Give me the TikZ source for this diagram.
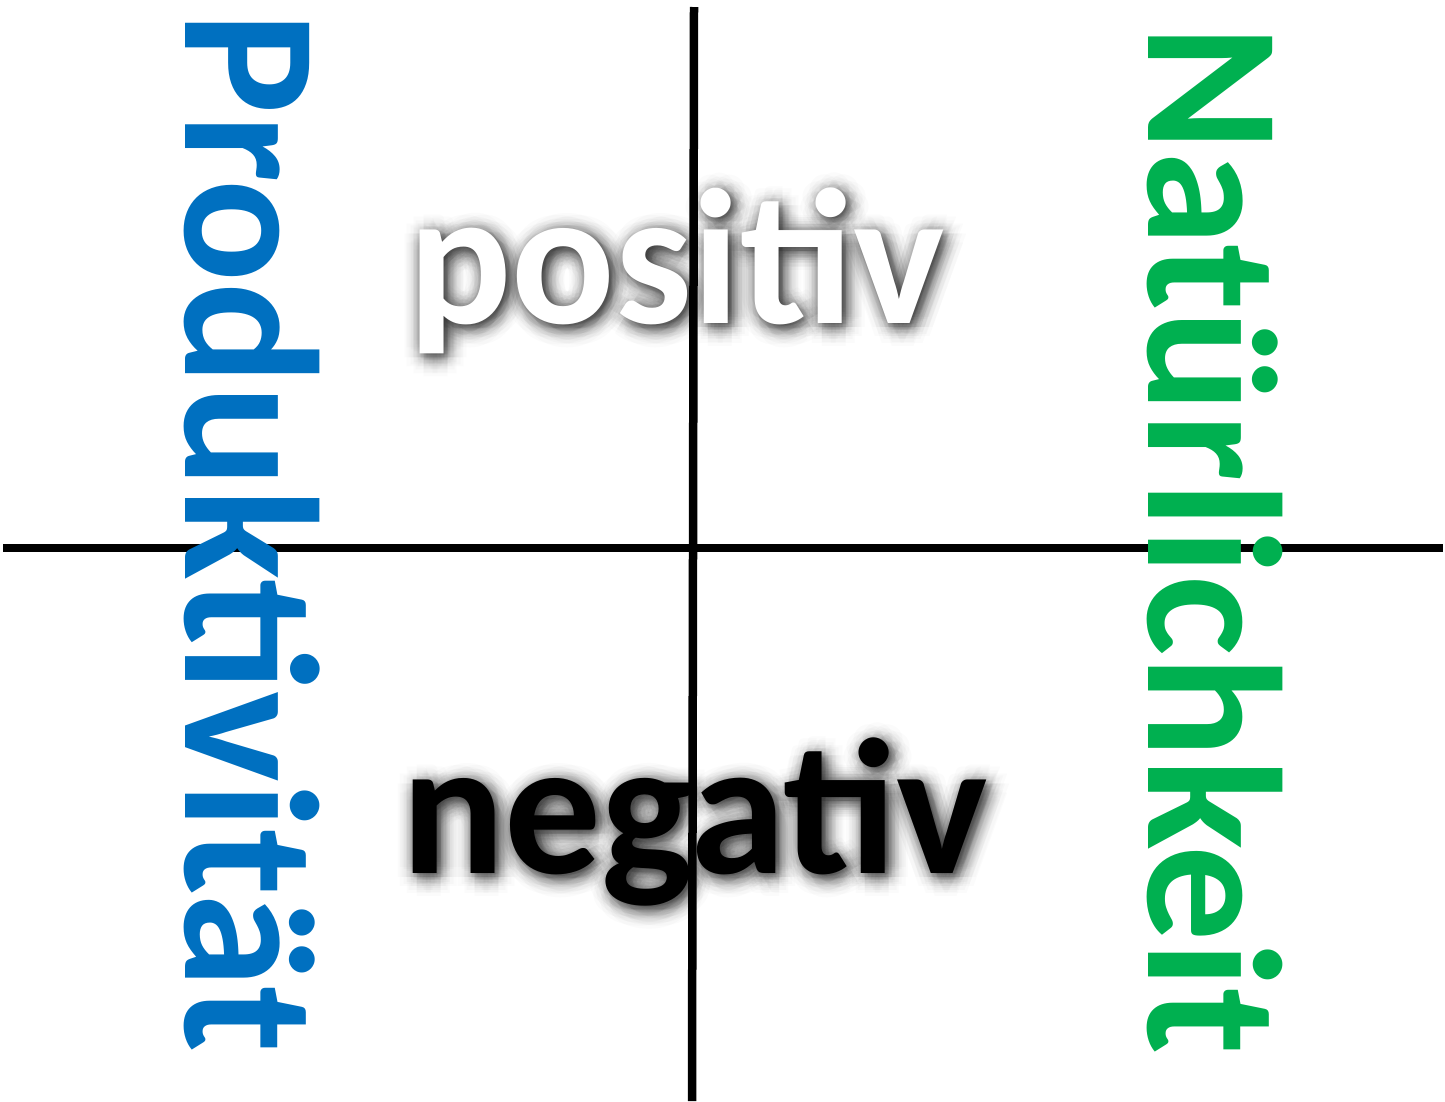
\documentclass[tikz,border=0pt]{standalone}
\usepackage{fontspec}
\setmainfont{Carlito}
\definecolor{prodblue}{RGB}{0,112,192}
\definecolor{natgreen}{RGB}{0,176,80}
\tikzset{
  axis/.style={line width=8.5pt,black},
  bigword/.style={font=\fontsize{193}{193}\selectfont\bfseries,inner sep=0pt,anchor=base west},
  sidetext/.style={font=\fontsize{191.5}{191.5}\selectfont\bfseries,inner sep=0pt,anchor=base west,rotate=-90},
}
\newcommand{\glowword}[4]{% x,y,text,color
  \foreach \r/\o in {19/0.014,15/0.018,11/0.022,7/0.026,3/0.03}{
    \foreach \a in {0,30,...,330}{
      \node[bigword,text=black,text opacity=\o] at ({#1+4+\r*cos(\a)},{#2+4+\r*sin(\a)}) {#3};
    }
  }
  \node[bigword,text=#4] at (#1,#2) {#3};
}
\begin{document}
\begin{tikzpicture}[x=1pt,y=-1pt]
\useasboundingbox (0,0) rectangle (1445,1101);
\fill[white] (0,0) rectangle (1445,1101);
\coordinate (hl) at (3,548);
\coordinate (hr) at (1443,548);
\coordinate (vt) at (694,7);
\coordinate (vb) at (692,1101);
\draw[axis] (hl) -- (hr);
\node[sidetext,text=prodblue] (prod) at (185,12) {Produktivität};
\node[sidetext,text=natgreen] (nat) at (1148,25) {Natürlichkeit};
\glowword{408}{323}{positiv}{white}
\glowword{401}{873}{negativ}{black}
\draw[axis] (vt) -- (vb);
\end{tikzpicture}
\end{document}
